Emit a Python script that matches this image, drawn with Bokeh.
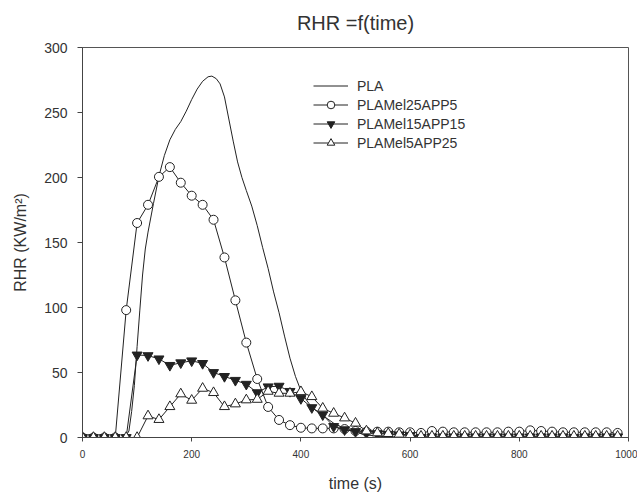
from bokeh.plotting import figure
from bokeh.models import Range1d, Legend, LegendItem, FixedTicker
from bokeh.embed import file_html
from bokeh.resources import INLINE

# ---------------- data ----------------
time_pla = [0, 60, 78, 85, 90, 95, 100, 105, 110, 115, 120, 130, 140, 150, 160, 170,
            180, 190, 200, 210, 220, 230, 237, 245, 252, 260, 268, 276, 284, 292, 300,
            310, 320, 330, 340, 350, 360, 370, 380, 390, 400, 410, 420, 440, 460, 480,
            500, 520, 540, 560, 580, 600, 1000]
rhr_pla = [0, 0, 0, 5, 20, 40, 70, 98, 125, 145, 158, 180, 201, 217, 229, 237,
           243, 251, 260, 268, 274, 277.5, 278, 276, 272, 262, 245, 228, 212, 200, 190,
           178, 163, 146, 130, 112, 96, 78, 61, 47, 36, 29, 23, 17, 11, 7,
           4, 2, 1, 0.5, 0, 0, 0]

time_s = [0, 20, 40, 60, 80, 100, 120, 140, 160, 180, 200, 220, 240, 260, 280, 300,
          320, 340, 360, 380, 400, 420, 440, 460, 480, 500, 520, 540, 560, 580, 600,
          620, 640, 660, 680, 700, 720, 740, 760, 780, 800, 820, 840, 860, 880, 900,
          920, 940, 960, 980]
rhr_m25 = [0, 0, 0, 0, 98, 165, 179, 200.5, 208, 196, 186, 179, 167.5, 138.5, 105.5, 73,
           45, 23.5, 13.5, 9.5, 7.5, 7, 7, 7, 6.5, 5, 4.5, 4.5, 4.5, 4, 4,
           3.5, 5, 4.5, 4, 4, 4, 4, 4, 4.5, 4.5, 5.5, 5, 4.5, 4, 4,
           4, 4, 4, 3.5]
rhr_m15 = [0, 0, 0, 0, 0, 63.5, 63, 60.5, 55.5, 57.5, 59, 57, 50, 47, 44, 41,
           34.5, 39, 39.5, 35.5, 30, 23, 17.5, 8.5, 6, 4.6, 3.5, 3, 2.5, 2, 1.5,
           0, 0.5, 0.5, 0.5, 0.5, 0.5, 0.5, 0.5, 0.5, 0.5, 0.5, 0.5, 0.5, 0.5, 0,
           0.5, 0.5, 0.5, 0.5]
rhr_m5 = [0, 0, 0, 0, 0, 0, 16.6, 13.8, 23.7, 33.5, 28.6, 37.8, 34.5, 23.7, 25.8, 28.9,
          29.3, 35.5, 34, 34, 35.2, 31.4, 22.5, 18.6, 15, 11, 5, 3.5, 3, 2.5, 2,
          1, 1, 1, 1, 1, 1, 1, 1, 1, 1, 1, 1, 1, 1, 1,
          1, 1, 1, 1]

series_names = ["PLA", "PLAMel25APP5", "PLAMel15APP15", "PLAMel5APP25"]
x_ticks = [0, 200, 400, 600, 800, 1000]
y_ticks = [0, 50, 100, 150, 200, 250, 300]

FONT = "Liberation Sans"
INK = "#222222"
TXT = "#333333"

p = figure(width=637, height=494, output_backend="svg", toolbar_location=None,
           x_range=Range1d(0, 1000), y_range=Range1d(0, 300),
           min_border_left=82, min_border_right=9, min_border_top=46,
           min_border_bottom=56)

p.title.text = "RHR =f(time)"
p.title.align = "center"
p.title.vertical_align = "top"
p.title.text_font = FONT
p.title.text_font_size = "20px"
p.title.text_font_style = "normal"
p.title.text_color = TXT
p.title.standoff = 23

p.grid.visible = False
p.outline_line_color = "#555555"
p.background_fill_color = "white"
p.border_fill_color = "white"

for ax in (p.xaxis[0], p.yaxis[0]):
    ax.axis_line_color = "#444444"
    ax.major_tick_line_color = "#444444"
    ax.minor_tick_line_color = None
    ax.major_tick_in = 0
    ax.major_label_text_font = FONT
    ax.major_label_text_color = TXT
    ax.axis_label_text_font = FONT
    ax.axis_label_text_font_style = "normal"
    ax.axis_label_text_font_size = "16px"
    ax.axis_label_text_color = TXT

p.xaxis.ticker = FixedTicker(ticks=x_ticks)
p.yaxis.ticker = FixedTicker(ticks=y_ticks)
p.xaxis.major_tick_out = 4
p.yaxis.major_tick_out = 5
p.xaxis.major_label_text_font_size = "10px"
p.yaxis.major_label_text_font_size = "14px"
p.xaxis.major_label_standoff = 8
p.yaxis.major_label_standoff = 10
p.xaxis.axis_label = "time (s)"
p.yaxis.axis_label = "RHR (KW/m²)"
p.xaxis.axis_label_standoff = 14
p.yaxis.axis_label_standoff = 12

r_pla = p.line(time_pla, rhr_pla, line_color=INK, line_width=1)

l25 = p.line(time_s, rhr_m25, line_color=INK, line_width=1)
s25 = p.scatter(time_s, rhr_m25, marker="circle", size=9, fill_color="white",
                line_color=INK, line_width=1)
l15 = p.line(time_s, rhr_m15, line_color=INK, line_width=1)
s15 = p.scatter(time_s, rhr_m15, marker="inverted_triangle", size=10, fill_color=INK,
                line_color=INK, line_width=1)
l5 = p.line(time_s, rhr_m5, line_color=INK, line_width=1)
s5 = p.scatter(time_s, rhr_m5, marker="triangle", size=10, fill_color="white",
               line_color=INK, line_width=1)

legend = Legend(items=[
    LegendItem(label=series_names[0], renderers=[r_pla]),
    LegendItem(label=series_names[1], renderers=[l25, s25]),
    LegendItem(label=series_names[2], renderers=[l15, s15]),
    LegendItem(label=series_names[3], renderers=[l5, s5]),
], location=(231, 285))
legend.padding = 0
legend.margin = 0
legend.spacing = 0
legend.border_line_color = None
legend.background_fill_alpha = 0
legend.glyph_width = 35
legend.glyph_height = 19
legend.label_height = 19
legend.label_standoff = 9
legend.label_text_font = FONT
legend.label_text_font_size = "14px"
legend.label_text_color = TXT
p.add_layout(legend)

open("out.html", "w").write(file_html(p, INLINE))
